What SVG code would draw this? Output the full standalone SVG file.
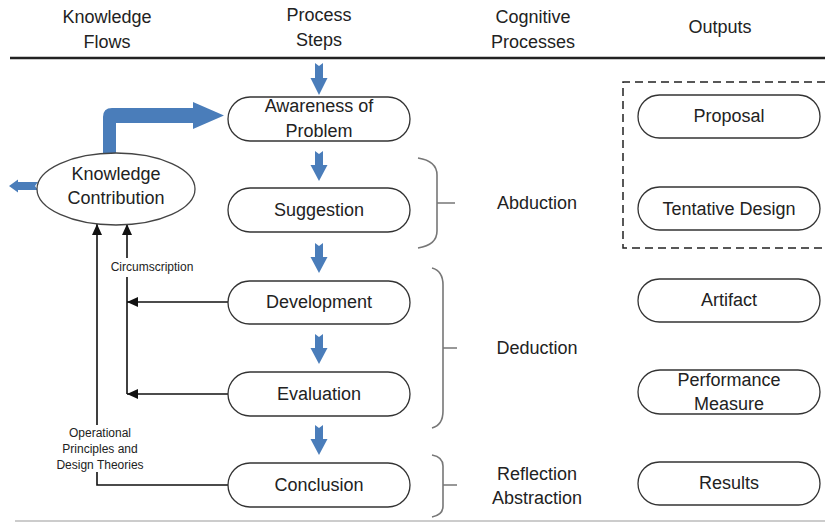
<svg xmlns="http://www.w3.org/2000/svg" width="825" height="523" viewBox="0 0 825 523">
<defs>
<style>
text{font-family:"Liberation Sans",Arial,sans-serif;fill:#222;text-anchor:middle}
.t{font-size:18px}
.s{font-size:12px}
.pill{fill:#fff;stroke:#333;stroke-width:1.3}
.blue{fill:#4a7dba}
.con{fill:none;stroke:#111;stroke-width:1.6}
.brace{fill:none;stroke:#777;stroke-width:1.6}
</style>
<marker id="ah" viewBox="0 0 11 10" refX="11" refY="5" markerWidth="11" markerHeight="10" orient="auto" markerUnits="userSpaceOnUse"><path d="M0,0 L11,5 L0,10 Z" fill="#111"/></marker>
</defs>
<rect width="825" height="523" fill="#fff"/>
<g id="header">
<text class="t" x="107" y="23">Knowledge</text>
<text class="t" x="107" y="48">Flows</text>
<text class="t" x="319" y="21">Process</text>
<text class="t" x="319" y="46">Steps</text>
<text class="t" x="533" y="23">Cognitive</text>
<text class="t" x="533" y="48">Processes</text>
<text class="t" x="720" y="33">Outputs</text>
<line x1="10" y1="58" x2="825" y2="58" stroke="#222" stroke-width="2.5"/>
<line x1="15" y1="521" x2="825" y2="521" stroke="#bbb" stroke-width="1.5"/>
</g>
<g id="blue-arrows">
<path class="blue" d="M315,63 L319,66 L323,63 L323,78 L327.5,78 L319,95 L310.5,78 L315,78 Z"/>
<path class="blue" d="M315,151 L319,154 L323,151 L323,165 L327.5,165 L319,181 L310.5,165 L315,165 Z"/>
<path class="blue" d="M315,243 L319,246 L323,243 L323,257 L327.5,257 L319,273 L310.5,257 L315,257 Z"/>
<path class="blue" d="M315,334 L319,337 L323,334 L323,348 L327.5,348 L319,364 L310.5,348 L315,348 Z"/>
<path class="blue" d="M315,425 L319,428 L323,425 L323,439 L327.5,439 L319,455 L310.5,439 L315,439 Z"/>
<path class="blue" d="M103,158 L103,117 Q103,108 112,108 L193,108 L193,102 L224,115.5 L193,129 L193,123 L116,123 L116,158 Z"/>
<path class="blue" d="M38,182 L18,182 L18,179.5 L9,186 L18,192.5 L18,190 L38,190 L35,186 Z"/>
</g>
<g id="connectors">
<path class="con" d="M228,485 H97 V224" marker-end="url(#ah)"/>
<path class="con" d="M127,394 V224" marker-end="url(#ah)"/>
<path class="con" d="M228,302 H127" marker-end="url(#ah)"/>
<path class="con" d="M228,394 H127" marker-end="url(#ah)"/>
<rect x="105" y="258" width="96" height="19" fill="#fff"/>
<text class="s" x="152" y="271">Circumscription</text>
<rect x="52" y="425" width="98" height="47" fill="#fff"/>
<text class="s" x="100" y="437">Operational</text>
<text class="s" x="100" y="453">Principles and</text>
<text class="s" x="100" y="469">Design Theories</text>
</g>
<g id="knowledge-contribution">
<ellipse cx="116" cy="189" rx="79" ry="36" fill="#fff" stroke="#444" stroke-width="1.3"/>
<text class="t" x="116" y="180">Knowledge</text>
<text class="t" x="116" y="204">Contribution</text>
</g>
<g id="awareness">
<rect class="pill" x="228" y="97" width="182" height="44" rx="22"/>
<text class="t" x="319" y="112">Awareness of</text>
<text class="t" x="319" y="137">Problem</text>
</g>
<g id="suggestion">
<rect class="pill" x="228" y="188" width="182" height="44" rx="22"/>
<text class="t" x="319" y="216">Suggestion</text>
</g>
<g id="development">
<rect class="pill" x="228" y="281" width="182" height="43" rx="21.5"/>
<text class="t" x="319" y="308">Development</text>
</g>
<g id="evaluation">
<rect class="pill" x="228" y="372" width="182" height="44" rx="22"/>
<text class="t" x="319" y="400">Evaluation</text>
</g>
<g id="conclusion">
<rect class="pill" x="228" y="463" width="182" height="44" rx="22"/>
<text class="t" x="319" y="491">Conclusion</text>
</g>
<g id="abduction">
<path class="brace" d="M418,158 Q437,161 437,175 V231 Q437,245 418,248 M437,203 H455"/>
<text class="t" x="537" y="209">Abduction</text>
</g>
<g id="deduction">
<path class="brace" d="M432,268 Q443,271 443,285 V411 Q443,425 432,428 M443,348 H457"/>
<text class="t" x="537" y="354">Deduction</text>
</g>
<g id="reflection">
<path class="brace" d="M432,455 Q443,457 443,466 V506 Q443,515 432,517 M443,485 H457"/>
<text class="t" x="537" y="480">Reflection</text>
<text class="t" x="537" y="504">Abstraction</text>
</g>
<g id="dashed-group">
<path d="M825,82 H623 V248 H825" fill="none" stroke="#222" stroke-width="1.5" stroke-dasharray="8 5"/>
</g>
<g id="proposal">
<rect class="pill" x="638" y="95" width="182" height="43" rx="21.5"/>
<text class="t" x="729" y="122">Proposal</text>
</g>
<g id="tentative-design">
<rect class="pill" x="638" y="187" width="182" height="43" rx="21.5"/>
<text class="t" x="729" y="215">Tentative Design</text>
</g>
<g id="artifact">
<rect class="pill" x="638" y="279" width="182" height="43" rx="21.5"/>
<text class="t" x="729" y="306">Artifact</text>
</g>
<g id="performance-measure">
<rect class="pill" x="638" y="370" width="182" height="44" rx="22"/>
<text class="t" x="729" y="386">Performance</text>
<text class="t" x="729" y="410">Measure</text>
</g>
<g id="results">
<rect class="pill" x="638" y="462" width="182" height="43" rx="21.5"/>
<text class="t" x="729" y="489">Results</text>
</g>
</svg>
